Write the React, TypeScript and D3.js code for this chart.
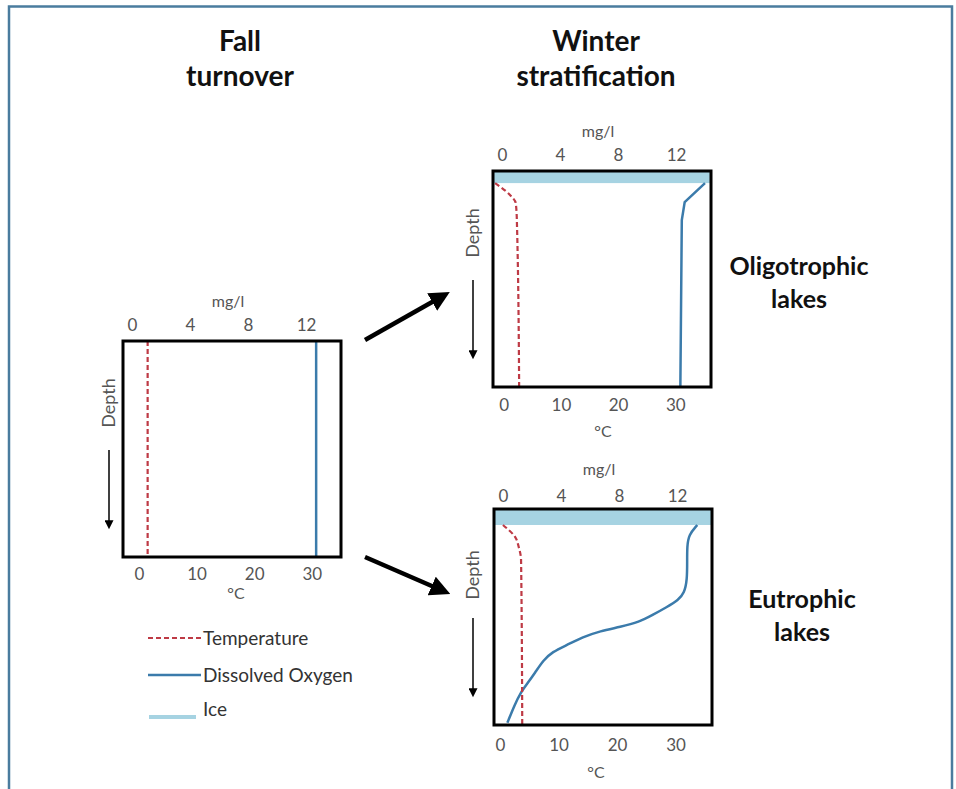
import React, { useEffect, useRef } from 'react';
import * as d3 from 'd3';

// tick labels
const mgTicks = [0, 4, 8, 12];
const tempTicks = [0, 10, 20, 30];

// depth is % of the box height (0 = surface)
const fallDepth = [0, 100];
const fallTemp = [1.5, 1.5];
const fallOxy = [12.7, 12.7];

const oligoIce = 5.6;
const oligoTempDepth = [5.6, 11.1, 14.8, 22.7, 100];
const oligoTemp = [-1.5, 1.1, 2.1, 2.3, 2.7];
const oligoOxyDepth = [5.6, 14.4, 22.7, 100];
const oligoOxy = [14.0, 12.6, 12.4, 12.3];

const eutroIce = 7.4;
const eutroTempDepth = [7.4, 13, 17.6, 23.6, 100];
const eutroTemp = [0.5, 2.6, 3.2, 3.6, 3.8];
const eutroOxyDepth = [7.4, 12, 17.6, 23.6, 32.9, 38.9, 42.1, 45.4, 49.1, 52.3, 54.6, 56.5, 59.3, 63, 66.2, 69.9, 75.9, 80.6, 85.2, 90.7, 99];
const eutroOxy = [13.4, 12.8, 12.7, 12.7, 12.7, 12.5, 12.1, 11.3, 10.3, 9.4, 8.1, 6.7, 5.5, 4.4, 3.4, 2.8, 2.2, 1.7, 1.2, 0.8, 0.3];

const legendItems = ['Temperature', 'Dissolved Oxygen', 'Ice'];

const RED = '#be3a45';
const BLUE = '#3b7bab';
const ICE = '#a6d3e2';
const GREY = '#555';
const FONT = 'Lato, "Open Sans", sans-serif';

const BOX_W = 218;
const BOX_H = 216;

function App() {
  const ref = useRef(null);

  useEffect(() => {
    const svg = d3.select(ref.current);
    svg.selectAll('*').remove();

    const defs = svg.append('defs');
    defs.append('marker')
      .attr('id', 'head')
      .attr('viewBox', '0 0 10 10')
      .attr('refX', 5).attr('refY', 5)
      .attr('markerWidth', 4.5).attr('markerHeight', 4.5)
      .attr('orient', 'auto')
      .append('path').attr('d', 'M0,0L10,5L0,10Z').attr('fill', '#000');
    defs.append('marker')
      .attr('id', 'small')
      .attr('viewBox', '0 0 10 10')
      .attr('refX', 2).attr('refY', 5)
      .attr('markerWidth', 11).attr('markerHeight', 9)
      .attr('markerUnits', 'userSpaceOnUse')
      .attr('orient', 'auto')
      .append('path').attr('d', 'M0,0L10,5L0,10Z').attr('fill', '#000');

    // outer frame (no bottom edge)
    svg.append('path')
      .attr('d', 'M9,789V6.5H952V789')
      .attr('fill', 'none').attr('stroke', '#4a7c9e').attr('stroke-width', 2.5);

    const title = (lines, x, y, size, gap) => {
      lines.forEach((t, i) => {
        svg.append('text').attr('x', x).attr('y', y + i * gap)
          .attr('text-anchor', 'middle')
          .attr('font-family', FONT).attr('font-weight', 'bold')
          .attr('font-size', size).attr('fill', '#111').text(t);
      });
    };
    title(['Fall', 'turnover'], 240, 51, 28, 35);
    title(['Winter', 'stratification'], 596, 51, 28, 35);
    title(['Oligotrophic', 'lakes'], 799, 275, 25, 33);
    title(['Eutrophic', 'lakes'], 802, 608, 25, 33);

    const panel = (p) => {
      const g = svg.append('g').attr('transform', `translate(${p.x},${p.y})`);
      const mg = d3.scaleLinear().domain([0, 12]).range([9, 9 + 12 * 14.5]);
      const tc = d3.scaleLinear().domain([0, 30]).range([p.tOff, p.tOff + 30 * p.tSlope]);
      const dy = d3.scaleLinear().domain([0, 100]).range([0, BOX_H]);

      if (p.ice) {
        g.append('rect').attr('x', 0).attr('y', 0)
          .attr('width', BOX_W).attr('height', dy(p.ice))
          .attr('fill', ICE);
      }

      const line = (xs, x, curve) => d3.line()
        .x((d, i) => x(xs[i]))
        .y((d) => dy(d))
        .curve(curve);

      g.append('path').datum(p.oxyDepth)
        .attr('d', line(p.oxy, mg, p.oxyCurve || d3.curveMonotoneY))
        .attr('fill', 'none').attr('stroke', BLUE).attr('stroke-width', 2.5);
      g.append('path').datum(p.tempDepth)
        .attr('d', line(p.temp, tc, d3.curveMonotoneY))
        .attr('fill', 'none').attr('stroke', RED).attr('stroke-width', 2.2)
        .attr('stroke-dasharray', '5,3');

      g.append('rect').attr('width', BOX_W).attr('height', BOX_H)
        .attr('fill', 'none').attr('stroke', '#000').attr('stroke-width', 3);

      const top = g.append('g').call(d3.axisTop(mg).tickValues(mgTicks).tickSize(0).tickPadding(p.topPad));
      const bot = g.append('g').attr('transform', `translate(0,${BOX_H})`)
        .call(d3.axisBottom(tc).tickValues(tempTicks).tickSize(0).tickPadding(p.botPad));
      [top, bot].forEach((a) => {
        a.select('.domain').remove();
        a.selectAll('text').attr('font-family', FONT).attr('font-size', 17).attr('fill', GREY);
      });

      g.append('text').attr('x', BOX_W / 2 - 4).attr('y', -34)
        .attr('text-anchor', 'middle').attr('font-family', FONT)
        .attr('font-size', 16).attr('fill', GREY).text('mg/l');
      g.append('text').attr('x', BOX_W / 2 + p.cOff).attr('y', BOX_H + p.cY)
        .attr('text-anchor', 'middle').attr('font-family', FONT)
        .attr('font-size', 16).attr('fill', GREY).text('°C');

      g.append('text')
        .attr('transform', `translate(${p.dx},${p.dTop}) rotate(-90)`)
        .attr('text-anchor', 'middle').attr('dy', '0.35em')
        .attr('font-family', FONT).attr('font-size', 18).attr('fill', GREY)
        .text('Depth');
      g.append('line').attr('x1', p.dx).attr('x2', p.dx).attr('y1', 109).attr('y2', 181)
        .attr('stroke', '#000').attr('stroke-width', 1.5)
        .attr('marker-end', 'url(#small)');
    };

    panel({ x: 123, y: 341, tOff: 16, tSlope: 5.76, dx: -14, dTop: 62, topPad: 10, botPad: 11, cOff: 4, cY: 42,
      tempDepth: fallDepth, temp: fallTemp, oxyDepth: fallDepth, oxy: fallOxy });
    panel({ x: 493, y: 171, tOff: 10.7, tSlope: 5.72, dx: -20, dTop: 62, topPad: 10, botPad: 12, cOff: 1, cY: 50,
      ice: oligoIce, tempDepth: oligoTempDepth, temp: oligoTemp, oxyDepth: oligoOxyDepth, oxy: oligoOxy,
      oxyCurve: d3.curveLinear });
    panel({ x: 494, y: 509, tOff: 6, tSlope: 5.85, dx: -21, dTop: 66, topPad: 7, botPad: 14, cOff: -7, cY: 53,
      ice: eutroIce, tempDepth: eutroTempDepth, temp: eutroTemp, oxyDepth: eutroOxyDepth, oxy: eutroOxy,
      oxyCurve: d3.curveBasis });

    // transition arrows
    [[365, 340, 441, 297], [365, 557, 441, 590]].forEach(([x1, y1, x2, y2]) => {
      svg.append('line').attr('x1', x1).attr('y1', y1).attr('x2', x2).attr('y2', y2)
        .attr('stroke', '#000').attr('stroke-width', 4.5)
        .attr('marker-end', 'url(#head)');
    });

    // legend
    const lg = svg.append('g').attr('transform', 'translate(148,638)');
    legendItems.forEach((name, i) => {
      const y = i * 37;
      if (i === 0) {
        lg.append('line').attr('x1', 0).attr('x2', 53).attr('y1', y).attr('y2', y)
          .attr('stroke', RED).attr('stroke-width', 2.2).attr('stroke-dasharray', '5,3');
      } else if (i === 1) {
        lg.append('line').attr('x1', 0).attr('x2', 53).attr('y1', y).attr('y2', y)
          .attr('stroke', BLUE).attr('stroke-width', 2.5);
      } else {
        lg.append('rect').attr('x', 1).attr('y', y + 3).attr('width', 47).attr('height', 4)
          .attr('fill', ICE);
      }
      lg.append('text').attr('x', 55).attr('y', y - (i === 2 ? 3 : 0)).attr('dy', '0.35em')
        .attr('font-family', FONT).attr('font-size', 19).attr('fill', '#333').text(name);
    });
  }, []);

  return (
    <svg ref={ref} width={956} height={789}
      style={{ position: 'absolute', left: 0, top: 0, background: '#fff' }} />
  );
}

export default App;
